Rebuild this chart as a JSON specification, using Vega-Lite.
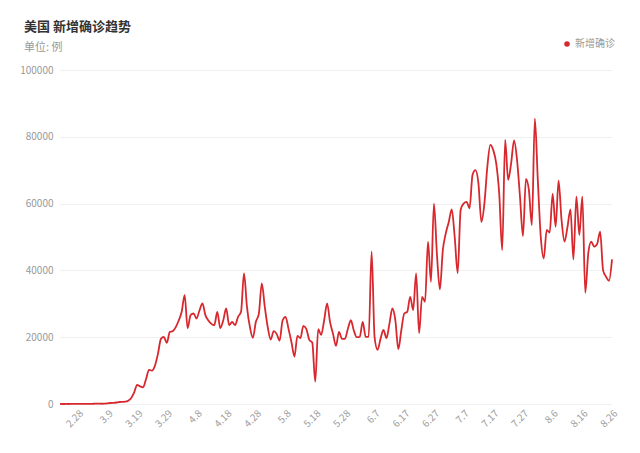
{
  "$schema": "https://vega.github.io/schema/vega-lite/v6.json",
  "autosize": {"type": "none"},
  "width": 552,
  "height": 334,
  "padding": {"left": 60, "top": 70, "right": 28, "bottom": 49},
  "background": "#ffffff",
  "config": {
    "font": "Noto Sans CJK SC",
    "view": {"stroke": null}
  },
  "title": {
    "text": "美国 新增确诊趋势",
    "subtitle": "单位: 例",
    "anchor": "start",
    "frame": "group",
    "dx": -36,
    "offset": -14,
    "fontSize": 13,
    "fontWeight": "bold",
    "color": "#333333",
    "subtitleFontSize": 11,
    "subtitleColor": "#999999",
    "subtitlePadding": 8
  },
  "data": {
    "values": [
      {"date": "2.22", "value": 15}, {"date": "2.23", "value": 0}, {"date": "2.24", "value": 10}, {"date": "2.25", "value": 5},
      {"date": "2.26", "value": 20}, {"date": "2.27", "value": 10}, {"date": "2.28", "value": 15}, {"date": "2.29", "value": 20},
      {"date": "3.1", "value": 25}, {"date": "3.2", "value": 30}, {"date": "3.3", "value": 20}, {"date": "3.4", "value": 60},
      {"date": "3.5", "value": 100}, {"date": "3.6", "value": 120}, {"date": "3.7", "value": 70}, {"date": "3.8", "value": 110},
      {"date": "3.9", "value": 180}, {"date": "3.10", "value": 300}, {"date": "3.11", "value": 350}, {"date": "3.12", "value": 450},
      {"date": "3.13", "value": 600}, {"date": "3.14", "value": 650}, {"date": "3.15", "value": 700}, {"date": "3.16", "value": 1000},
      {"date": "3.17", "value": 1800}, {"date": "3.18", "value": 3500}, {"date": "3.19", "value": 5700}, {"date": "3.20", "value": 5300},
      {"date": "3.21", "value": 5000}, {"date": "3.22", "value": 7500}, {"date": "3.23", "value": 10200}, {"date": "3.24", "value": 10000},
      {"date": "3.25", "value": 11500}, {"date": "3.26", "value": 15000}, {"date": "3.27", "value": 19500}, {"date": "3.28", "value": 20100},
      {"date": "3.29", "value": 18300}, {"date": "3.30", "value": 21600}, {"date": "3.31", "value": 21800}, {"date": "4.1", "value": 23000},
      {"date": "4.2", "value": 25000}, {"date": "4.3", "value": 27600}, {"date": "4.4", "value": 32600}, {"date": "4.5", "value": 22700},
      {"date": "4.6", "value": 26600}, {"date": "4.7", "value": 27100}, {"date": "4.8", "value": 25600}, {"date": "4.9", "value": 28000},
      {"date": "4.10", "value": 30100}, {"date": "4.11", "value": 26600}, {"date": "4.12", "value": 25000}, {"date": "4.13", "value": 24000},
      {"date": "4.14", "value": 23600}, {"date": "4.15", "value": 27600}, {"date": "4.16", "value": 22700}, {"date": "4.17", "value": 25000},
      {"date": "4.18", "value": 28600}, {"date": "4.19", "value": 23600}, {"date": "4.20", "value": 24600}, {"date": "4.21", "value": 23600},
      {"date": "4.22", "value": 26100}, {"date": "4.23", "value": 27600}, {"date": "4.24", "value": 39100}, {"date": "4.25", "value": 29100},
      {"date": "4.26", "value": 23000}, {"date": "4.27", "value": 19800}, {"date": "4.28", "value": 24600}, {"date": "4.29", "value": 27000},
      {"date": "4.30", "value": 36100}, {"date": "5.1", "value": 29100}, {"date": "5.2", "value": 23000}, {"date": "5.3", "value": 19300},
      {"date": "5.4", "value": 21800}, {"date": "5.5", "value": 21000}, {"date": "5.6", "value": 19000}, {"date": "5.7", "value": 25000},
      {"date": "5.8", "value": 26100}, {"date": "5.9", "value": 22500}, {"date": "5.10", "value": 18500}, {"date": "5.11", "value": 14200},
      {"date": "5.12", "value": 20400}, {"date": "5.13", "value": 19700}, {"date": "5.14", "value": 23400}, {"date": "5.15", "value": 22500},
      {"date": "5.16", "value": 19200}, {"date": "5.17", "value": 18400}, {"date": "5.18", "value": 6700}, {"date": "5.19", "value": 22400},
      {"date": "5.20", "value": 20700}, {"date": "5.21", "value": 25000}, {"date": "5.22", "value": 30100}, {"date": "5.23", "value": 24500},
      {"date": "5.24", "value": 21000}, {"date": "5.25", "value": 17400}, {"date": "5.26", "value": 21600}, {"date": "5.27", "value": 19500},
      {"date": "5.28", "value": 19500}, {"date": "5.29", "value": 22500}, {"date": "5.30", "value": 25100}, {"date": "5.31", "value": 22000},
      {"date": "6.1", "value": 20000}, {"date": "6.2", "value": 20100}, {"date": "6.3", "value": 24600}, {"date": "6.4", "value": 20100},
      {"date": "6.5", "value": 20100}, {"date": "6.6", "value": 45600}, {"date": "6.7", "value": 20000}, {"date": "6.8", "value": 16200},
      {"date": "6.9", "value": 19500}, {"date": "6.10", "value": 22200}, {"date": "6.11", "value": 19700}, {"date": "6.12", "value": 24000},
      {"date": "6.13", "value": 28600}, {"date": "6.14", "value": 25100}, {"date": "6.15", "value": 16400}, {"date": "6.16", "value": 22000},
      {"date": "6.17", "value": 27100}, {"date": "6.18", "value": 27600}, {"date": "6.19", "value": 32100}, {"date": "6.20", "value": 28100},
      {"date": "6.21", "value": 39100}, {"date": "6.22", "value": 21200}, {"date": "6.23", "value": 32100}, {"date": "6.24", "value": 30600},
      {"date": "6.25", "value": 48600}, {"date": "6.26", "value": 36600}, {"date": "6.27", "value": 60000}, {"date": "6.28", "value": 45000},
      {"date": "6.29", "value": 34300}, {"date": "6.30", "value": 46100}, {"date": "7.1", "value": 51100}, {"date": "7.2", "value": 54500},
      {"date": "7.3", "value": 58300}, {"date": "7.4", "value": 50000}, {"date": "7.5", "value": 39200}, {"date": "7.6", "value": 58100},
      {"date": "7.7", "value": 60000}, {"date": "7.8", "value": 60500}, {"date": "7.9", "value": 58600}, {"date": "7.10", "value": 68600},
      {"date": "7.11", "value": 70000}, {"date": "7.12", "value": 66000}, {"date": "7.13", "value": 54500}, {"date": "7.14", "value": 60000},
      {"date": "7.15", "value": 71100}, {"date": "7.16", "value": 77600}, {"date": "7.17", "value": 76000}, {"date": "7.18", "value": 72000},
      {"date": "7.19", "value": 63000}, {"date": "7.20", "value": 46100}, {"date": "7.21", "value": 79100}, {"date": "7.22", "value": 67100},
      {"date": "7.23", "value": 72000}, {"date": "7.24", "value": 78900}, {"date": "7.25", "value": 73100}, {"date": "7.26", "value": 62000},
      {"date": "7.27", "value": 50300}, {"date": "7.28", "value": 67400}, {"date": "7.29", "value": 64000}, {"date": "7.30", "value": 53600},
      {"date": "7.31", "value": 85400}, {"date": "8.1", "value": 67100}, {"date": "8.2", "value": 50000}, {"date": "8.3", "value": 43600},
      {"date": "8.4", "value": 52100}, {"date": "8.5", "value": 51300}, {"date": "8.6", "value": 62900}, {"date": "8.7", "value": 53100},
      {"date": "8.8", "value": 66900}, {"date": "8.9", "value": 55100}, {"date": "8.10", "value": 48600}, {"date": "8.11", "value": 53000},
      {"date": "8.12", "value": 58300}, {"date": "8.13", "value": 43300}, {"date": "8.14", "value": 62100}, {"date": "8.15", "value": 50600},
      {"date": "8.16", "value": 62100}, {"date": "8.17", "value": 33300}, {"date": "8.18", "value": 45100}, {"date": "8.19", "value": 48600},
      {"date": "8.20", "value": 47100}, {"date": "8.21", "value": 47900}, {"date": "8.22", "value": 51600}, {"date": "8.23", "value": 40000},
      {"date": "8.24", "value": 38100}, {"date": "8.25", "value": 36900}, {"date": "8.26", "value": 43300}
    ]
  },
  "mark": {"type": "line", "interpolate": "monotone", "strokeWidth": 1.8},
  "encoding": {
    "x": {
      "field": "date",
      "type": "ordinal",
      "sort": null,
      "scale": {"type": "point", "padding": 0},
      "axis": {
        "title": null,
        "values": ["2.28", "3.9", "3.19", "3.29", "4.8", "4.18", "4.28", "5.8", "5.18", "5.28", "6.7", "6.17", "6.27", "7.7", "7.17", "7.27", "8.6", "8.16", "8.26"],
        "labelAngle": -45,
        "labelColor": "#a0a0a0",
        "labelFontSize": 10,
        "labelPadding": 4,
        "domain": false,
        "ticks": false,
        "grid": false
      }
    },
    "y": {
      "field": "value",
      "type": "quantitative",
      "scale": {"domain": [0, 100000]},
      "axis": {
        "title": null,
        "values": [0, 20000, 40000, 60000, 80000, 100000],
        "format": "d",
        "labelColor": "#999999",
        "labelFontSize": 10,
        "labelPadding": 7,
        "domain": false,
        "ticks": false,
        "gridColor": "#f0f0f0",
        "gridWidth": 1
      }
    },
    "color": {
      "datum": "新增确诊",
      "type": "nominal",
      "scale": {"range": ["#d7282e"]},
      "legend": {
        "title": null,
        "orient": "none",
        "legendX": 502,
        "legendY": -31,
        "symbolType": "circle",
        "symbolSize": 30,
        "symbolFillColor": "#d7282e",
        "symbolStrokeColor": "#d7282e",
        "symbolStrokeWidth": 0,
        "labelColor": "#999999",
        "labelFontSize": 10,
        "labelOffset": 3
      }
    }
  }
}
